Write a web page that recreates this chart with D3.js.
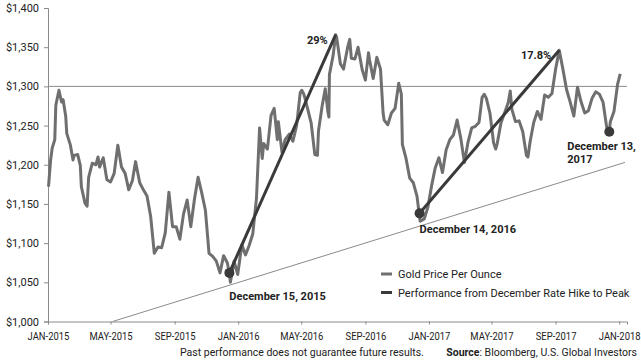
<!DOCTYPE html>
<html>
<head>
<meta charset="utf-8">
<script src="https://cdn.jsdelivr.net/npm/d3@7"></script>
<style>
  body { margin: 0; background: #fff; }
  text { font-family: "Roboto", "Noto Sans", sans-serif; fill: #222; }
  .bold { font-weight: bold; }
</style>
</head>
<body>
<div id="chart"></div>
<script>
//Gold price per ounce (date, USD)
const goldPrices = [
  ["2015-01-02",1172],["2015-01-06",1206],["2015-01-09",1221],["2015-01-14",1232],["2015-01-16",1276],["2015-01-22",1295],
  ["2015-01-27",1280],["2015-01-30",1283],["2015-02-04",1262],["2015-02-06",1240],["2015-02-13",1225],["2015-02-18",1206],
  ["2015-02-20",1212],["2015-02-27",1213],["2015-03-04",1199],["2015-03-06",1172],["2015-03-13",1151],["2015-03-17",1147],
  ["2015-03-20",1184],["2015-03-27",1202],["2015-04-03",1200],["2015-04-07",1210],["2015-04-10",1197],["2015-04-17",1209],
  ["2015-04-24",1181],["2015-05-01",1178],["2015-05-08",1189],["2015-05-15",1225],["2015-05-20",1205],["2015-05-22",1197],
  ["2015-05-29",1189],["2015-06-05",1168],["2015-06-12",1180],["2015-06-18",1204],["2015-06-26",1177],["2015-07-03",1168],
  ["2015-07-10",1160],["2015-07-17",1134],["2015-07-24",1087],["2015-07-31",1095],["2015-08-07",1094],["2015-08-14",1113],
  ["2015-08-21",1165],["2015-08-28",1121],["2015-09-04",1121],["2015-09-11",1105],["2015-09-18",1137],["2015-09-25",1155],
  ["2015-10-02",1121],["2015-10-09",1156],["2015-10-16",1184],["2015-10-23",1164],["2015-10-30",1142],["2015-11-06",1087],
  ["2015-11-13",1083],["2015-11-20",1077],["2015-11-27",1062],["2015-12-04",1084],["2015-12-11",1075],["2015-12-15",1062],
  ["2015-12-17",1050],["2015-12-24",1077],["2015-12-31",1060],
  ["2016-01-08",1098],["2016-01-15",1085],["2016-01-22",1097],["2016-01-29",1112],["2016-02-05",1157],["2016-02-11",1247],
  ["2016-02-16",1208],["2016-02-19",1227],["2016-02-26",1220],["2016-03-04",1263],["2016-03-10",1272],["2016-03-16",1232],
  ["2016-03-18",1255],["2016-03-25",1216],["2016-03-31",1232],["2016-04-08",1239],["2016-04-15",1230],["2016-04-22",1250],
  ["2016-04-29",1292],["2016-05-02",1295],["2016-05-06",1290],["2016-05-13",1272],["2016-05-20",1253],["2016-05-27",1213],
  ["2016-06-01",1212],["2016-06-03",1243],["2016-06-10",1275],["2016-06-16",1297],["2016-06-21",1268],["2016-06-23",1261],
  ["2016-06-24",1315],["2016-07-01",1339],["2016-07-06",1366],["2016-07-08",1362],["2016-07-15",1329],["2016-07-21",1322],
  ["2016-07-29",1350],["2016-08-02",1360],["2016-08-05",1336],["2016-08-12",1335],["2016-08-18",1350],["2016-08-26",1321],
  ["2016-09-01",1308],["2016-09-07",1343],["2016-09-09",1334],["2016-09-16",1310],["2016-09-23",1337],["2016-09-30",1322],
  ["2016-10-05",1266],["2016-10-07",1257],["2016-10-14",1251],["2016-10-21",1266],["2016-10-28",1272],["2016-11-04",1304],
  ["2016-11-09",1290],["2016-11-11",1226],["2016-11-18",1208],["2016-11-25",1183],["2016-12-02",1177],["2016-12-09",1160],
  ["2016-12-15",1128],["2016-12-23",1131],["2016-12-30",1146],
  ["2017-01-06",1173],["2017-01-13",1196],["2017-01-20",1209],["2017-01-27",1190],["2017-02-03",1219],["2017-02-10",1232],
  ["2017-02-17",1238],["2017-02-24",1257],["2017-03-03",1234],["2017-03-10",1203],["2017-03-17",1229],["2017-03-24",1247],
  ["2017-03-31",1249],["2017-04-07",1254],["2017-04-13",1286],["2017-04-17",1290],["2017-04-21",1285],["2017-04-28",1266],
  ["2017-05-05",1228],["2017-05-09",1220],["2017-05-12",1227],["2017-05-19",1253],["2017-05-26",1266],["2017-06-02",1279],
  ["2017-06-06",1294],["2017-06-09",1271],["2017-06-16",1255],["2017-06-23",1256],["2017-06-30",1242],["2017-07-07",1212],
  ["2017-07-10",1210],["2017-07-14",1229],["2017-07-21",1254],["2017-07-28",1268],["2017-08-04",1258],["2017-08-11",1289],
  ["2017-08-18",1286],["2017-08-25",1291],["2017-09-01",1322],["2017-09-08",1346],["2017-09-15",1322],["2017-09-22",1296],
  ["2017-09-29",1280],["2017-10-06",1262],["2017-10-13",1299],["2017-10-20",1280],["2017-10-27",1266],["2017-11-03",1269],
  ["2017-11-10",1285],["2017-11-17",1293],["2017-11-24",1290],["2017-12-01",1280],["2017-12-08",1248],["2017-12-13",1242],
  ["2017-12-15",1255],["2017-12-22",1268],["2017-12-29",1303],["2018-01-03",1316]
];

//December rate hikes (dot) and the following peaks
const hikePoints = [["2015-12-15",1062],["2016-12-14",1138],["2017-12-13",1242]];
const peakPoints = [["2016-07-06",1366],["2017-09-08",1346]];
const gainLabels = ["29%","17.8%"];

//thin support line under the lows
const supportLine = [["2015-05-05",1000],["2018-01-12",1203]];

//axis ticks
const xTickDates = ["2015-01-01","2015-05-01","2015-09-01","2016-01-01","2016-05-01","2016-09-01",
                    "2017-01-01","2017-05-01","2017-09-01","2018-01-01"];
const yTicks = [1000,1050,1100,1150,1200,1250,1300,1350,1400];
const gridValue = 1300;

const legendLabels = ["Gold Price Per Ounce","Performance from December Rate Hike to Peak"];

const width = 641, height = 362;
const parse = d3.timeParse("%Y-%m-%d");
const gray = "#6f6f6f", dark = "#3a3a3a", thin = "#8a8a8a";

const svg = d3.select("#chart").append("svg")
  .attr("width", width)
  .attr("height", height);

//Scales
const x = d3.scaleTime().domain([parse("2015-01-01"), parse("2018-01-16")]).range([48, 627]);
const y = d3.scaleLinear().domain([1000, 1400]).range([321.5, 8]);

//Axes
const fmtX = d3.timeFormat("%b-%Y");
const xAxis = d3.axisBottom(x).tickValues(xTickDates.map(parse))
  .tickFormat(d => fmtX(d).toUpperCase()).tickSize(3).tickPadding(8);
const yAxis = d3.axisLeft(y).tickValues(yTicks)
  .tickFormat(d => "$" + d3.format(",")(d)).tickSize(4).tickPadding(5);

const gx = svg.append("g").attr("transform", `translate(0,${y(1000)})`).call(xAxis);
const gy = svg.append("g").attr("transform", `translate(${x.range()[0]},0)`).call(yAxis);
[gx, gy].forEach(g => {
  g.select(".domain").attr("stroke", thin);
  g.selectAll(".tick line").attr("stroke", thin);
  g.selectAll("text").style("font-family", "Roboto").style("font-size", "11px").attr("fill", "#222");
});
//the reference uses a condensed face for the dates
gx.selectAll("text").style("font-size", "10.5px").attr("transform", "scale(0.9,1)");

//gridline at $1,300
svg.append("line")
  .attr("x1", x.range()[0]).attr("x2", x.range()[1])
  .attr("y1", y(gridValue)).attr("y2", y(gridValue))
  .attr("stroke", thin).attr("stroke-width", 1);

//support line
svg.append("line")
  .attr("x1", x(parse(supportLine[0][0]))).attr("y1", y(supportLine[0][1]))
  .attr("x2", x(parse(supportLine[1][0]))).attr("y2", y(supportLine[1][1]))
  .attr("stroke", thin).attr("stroke-width", 1);

//gold price line
const line = d3.line().x(d => x(parse(d[0]))).y(d => y(d[1]));
svg.append("path").datum(goldPrices)
  .attr("d", line)
  .attr("fill", "none")
  .attr("stroke", gray)
  .attr("stroke-width", 3)
  .attr("stroke-linejoin", "round");

//hike to peak lines
peakPoints.forEach((p, i) => {
  svg.append("path").datum([hikePoints[i], p])
    .attr("d", line)
    .attr("fill", "none")
    .attr("stroke", dark)
    .attr("stroke-width", 3);
  svg.append("text").attr("class", "bold")
    .attr("x", x(parse(p[0])) - 8).attr("y", y(p[1]) + 9)
    .attr("text-anchor", "end")
    .style("font-size", "11px")
    .text(gainLabels[i]);
});

//dots
svg.selectAll(".hike").data(hikePoints).join("circle")
  .attr("class", "hike")
  .attr("cx", d => x(parse(d[0])))
  .attr("cy", d => y(d[1]))
  .attr("r", 5)
  .attr("fill", dark);

//date labels
const dateLabels = [
  {p: hikePoints[0], lines: ["December 15, 2015"], dx: 0, dy: 27},
  {p: hikePoints[1], lines: ["December 14, 2016"], dx: 0, dy: 20},
  {p: hikePoints[2], lines: ["December 13,", "2017"], dx: -42, dy: 18}
];
dateLabels.forEach(l => {
  const t = svg.append("text").attr("class", "bold")
    .attr("x", x(parse(l.p[0])) + l.dx)
    .attr("y", y(l.p[1]) + l.dy)
    .style("font-size", "11px");
  l.lines.forEach((s, i) => t.append("tspan")
    .attr("x", x(parse(l.p[0])) + l.dx)
    .attr("dy", i ? 13 : 0)
    .text(s));
});

//legend
const legend = svg.append("g").attr("transform", "translate(381,274)");
legendLabels.forEach((s, i) => {
  legend.append("line").attr("x1", 0).attr("x2", 11)
    .attr("y1", i * 18.5).attr("y2", i * 18.5)
    .attr("stroke", i ? dark : gray).attr("stroke-width", 3);
  legend.append("text").attr("x", 17).attr("y", i * 18.5 + 4)
    .style("font-size", "11px").text(s);
});

//footer
svg.append("text").attr("x", 180).attr("y", 356).style("font-size", "10.5px")
  .text("Past performance does not guarantee future results.");
const src = svg.append("text").attr("x", 637).attr("y", 356)
  .attr("text-anchor", "end").style("font-size", "10.5px");
src.append("tspan").attr("class", "bold").text("Source");
src.append("tspan").text(": Bloomberg, U.S. Global Investors");
</script>
</body>
</html>
